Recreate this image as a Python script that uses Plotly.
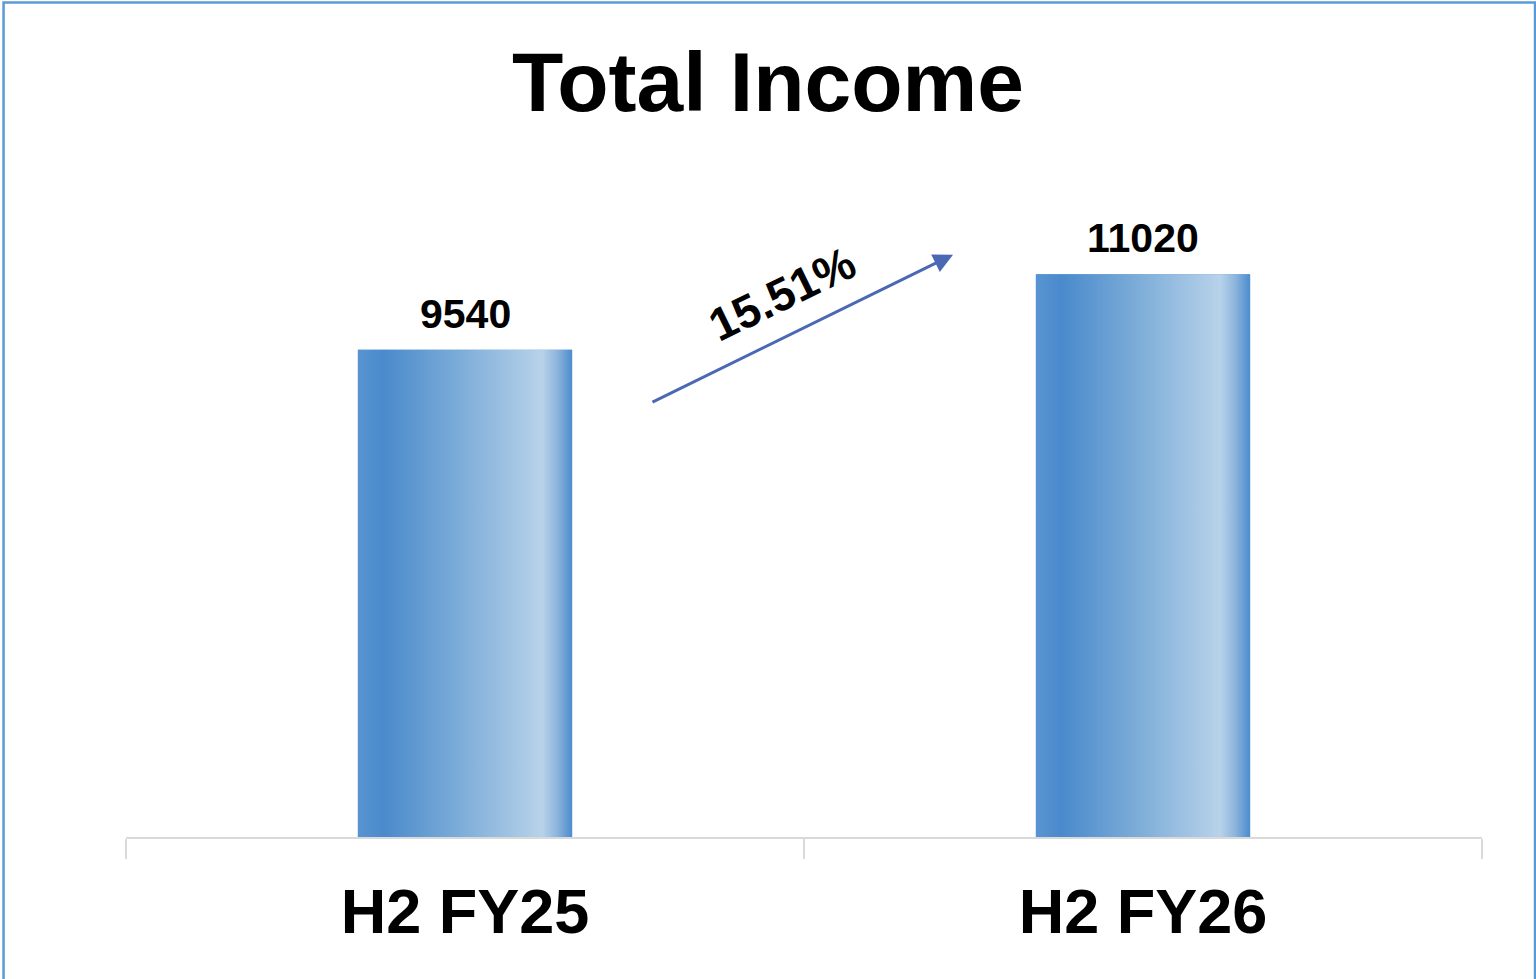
import plotly.graph_objects as go

categories = ["H2 FY25", "H2 FY26"]
values = [9540, 11020]
growth_label = "15.51%"
title_text = "Total Income"

FONT = "Liberation Sans, Arial, sans-serif"
BAR_W = 0.316
grad = [[0.0, "#5894D1"], [0.12, "#4A8ACC"], [0.5, "#80AFD9"],
        [0.86, "#B8D2EA"], [0.93, "#8DB5DD"], [1.0, "#4C8CCD"]]

fig = go.Figure()
xs = list(range(len(categories)))
fig.add_trace(go.Bar(x=xs, y=values, width=BAR_W, marker=dict(color="#5B9BD5", line=dict(width=0)),
                     hoverinfo="skip", showlegend=False))
for i, v in zip(xs, values):
    x0, x1 = i - BAR_W / 2, i + BAR_W / 2
    fig.add_trace(go.Scatter(x=[x0, x1, x1, x0, x0], y=[0, 0, v, v, 0], mode="lines",
                             line=dict(width=0), fill="toself",
                             fillgradient=dict(type="horizontal", colorscale=grad),
                             hoverinfo="skip", showlegend=False))

for i, v in zip(xs, values):
    fig.add_annotation(x=i, y=v, text=str(v), showarrow=False, yanchor="bottom", yshift=11,
                       font=dict(family=FONT, size=41, color="#000000", weight="bold"))

# growth arrow
fig.add_annotation(x=0.7198, y=11400, ax=0.2743, ay=8501, axref="x", ayref="y", xref="x", yref="y",
                   text="", showarrow=True, arrowhead=2, arrowsize=1.3, arrowwidth=3,
                   arrowcolor="#4A68B4", standoff=0, startstandoff=0)
fig.add_annotation(x=0.467, y=10640, text=growth_label, showarrow=False, textangle=-26,
                   font=dict(family=FONT, size=46, color="#000000", weight="bold"))

# outer border
fig.add_shape(type="rect", xref="paper", yref="paper", x0=-0.0903, x1=1.0391, y0=-0.3, y1=1.2568,
              line=dict(color="#5B9BD5", width=2.5), fillcolor="rgba(0,0,0,0)", layer="above")

fig.update_layout(
    width=1536, height=979,
    margin=dict(l=126, r=54, t=173, b=142),
    paper_bgcolor="white", plot_bgcolor="white",
    barmode="overlay",
    title=dict(text=title_text, x=0.5, xref="container", y=1 - 82 / 979, yref="container",
               xanchor="center", yanchor="middle",
               font=dict(family=FONT, size=84, color="#000000", weight="bold")),
    xaxis=dict(range=[-0.5, 1.5], tickvals=xs, ticktext=categories, ticks="",
               tickfont=dict(family=FONT, size=63, color="#000000", weight="bold"),
               ticklabelstandoff=18,
               showline=True, linecolor="#D9D9D9", linewidth=2, showgrid=False, zeroline=False,
               minor=dict(tickvals=[-0.5, 0.5, 1.5], ticks="outside", ticklen=20,
                          tickcolor="#D9D9D9", tickwidth=2, showgrid=False)),
    yaxis=dict(range=[0, 13000], visible=False, showgrid=False, zeroline=False),
    showlegend=False,
)

fig.write_html("out.html", config={"displayModeBar": False},
               post_script="document.body.style.margin='0';document.body.style.overflow='hidden';")
